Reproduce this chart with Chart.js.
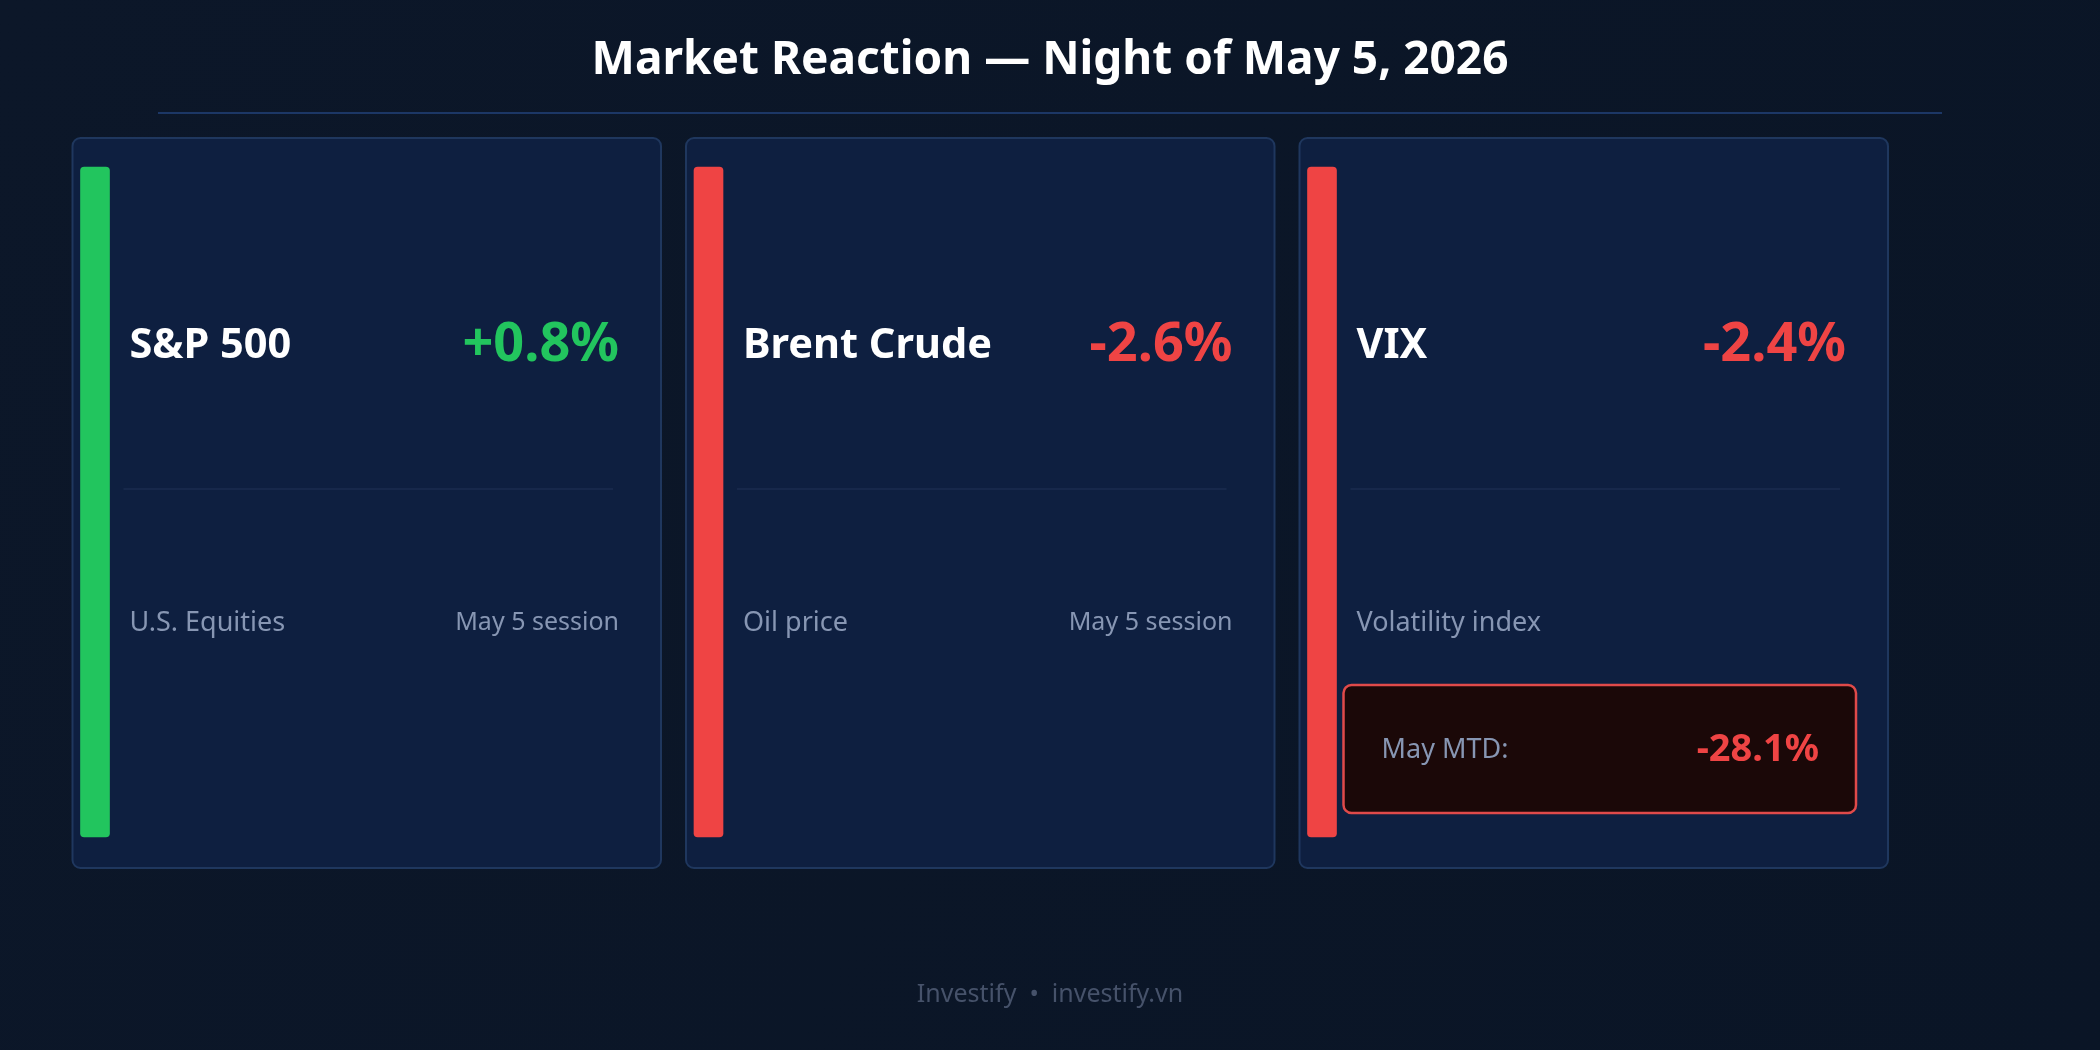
<!DOCTYPE html>
<html>
<head>
<meta charset="utf-8">
<title>Market Reaction</title>
<script src="https://cdn.jsdelivr.net/npm/chart.js@4.4.1/dist/chart.umd.min.js"></script>
<style>
  html, body { margin: 0; padding: 0; background: #0b1628; }
  #wrap { width: 2100px; height: 1050px; position: relative; }
</style>
</head>
<body>
<div id="wrap"><canvas id="board"></canvas></div>
<script>
const assets = ["S&P 500", "Brent Crude", "VIX"];
const changes = [0.8, -2.6, -2.4];
const descriptions = ["U.S. Equities", "Oil price", "Volatility index"];
const sessions = ["May 5 session", "May 5 session", ""];
const monthToDate = [null, null, -28.1];
const stripeSpan = [1, 1, 1];
const chartTitle = "Market Reaction \u2014 Night of May 5, 2026";
const footerText = "Investify  \u2022  investify.vn";

const GREEN = "#22c55e";
const RED = "#ef4444";
const FONT = '"Noto Sans", "Open Sans", sans-serif';

const fmt = (v) => (v > 0 ? "+" : "") + v.toFixed(1) + "%";
const tone = (v) => (v >= 0 ? GREEN : RED);

function roundRect(ctx, x, y, w, h, r) {
  ctx.beginPath();
  ctx.moveTo(x + r, y);
  ctx.arcTo(x + w, y, x + w, y + h, r);
  ctx.arcTo(x + w, y + h, x, y + h, r);
  ctx.arcTo(x, y + h, x, y, r);
  ctx.arcTo(x, y, x + w, y, r);
  ctx.closePath();
}

function text(ctx, str, x, y, font, color, align) {
  ctx.font = font;
  ctx.fillStyle = color;
  ctx.textAlign = align || "left";
  ctx.textBaseline = "middle";
  ctx.fillText(str, x, y);
}

const cardsPlugin = {
  id: "cards",
  beforeDraw(chart) {
    const { ctx, width, height } = chart;
    ctx.save();

    const bg = ctx.createLinearGradient(0, 0, width, height);
    bg.addColorStop(0, "#0c1729");
    bg.addColorStop(1, "#0a1526");
    ctx.fillStyle = bg;
    ctx.fillRect(0, 0, width, height);

    text(ctx, chartTitle, width / 2, 61, "bold 46px " + FONT, "#ffffff", "center");
    ctx.strokeStyle = "#1c3766";
    ctx.lineWidth = 2;
    ctx.beginPath();
    ctx.moveTo(158, 113);
    ctx.lineTo(1942, 113);
    ctx.stroke();

    const bars = chart.getDatasetMeta(0).data;
    const step = bars.length > 1 ? bars[1].x - bars[0].x : 613;
    bars.forEach((bar, i) => {
      const left = bar.x - bar.width / 2 - 9;
      const top = bar.y - 30;
      const w = step - 23;
      const h = bar.base - bar.y + 62;
      const right = left + w;

      roundRect(ctx, left + 1, top + 1, w - 2, h - 2, 8);
      ctx.fillStyle = "#0e1f40";
      ctx.fill();
      ctx.strokeStyle = "#1f375e";
      ctx.lineWidth = 2;
      ctx.stroke();

      text(ctx, assets[i], left + 58, top + 209, "bold 41.5px " + FONT, "#ffffff");
      text(ctx, fmt(changes[i]), right - 43, top + 209, "bold 54px " + FONT, tone(changes[i]), "right");

      ctx.strokeStyle = "#1b2d4f";
      ctx.lineWidth = 1.5;
      ctx.beginPath();
      ctx.moveTo(left + 52, top + 352);
      ctx.lineTo(right - 49, top + 352);
      ctx.stroke();

      text(ctx, descriptions[i], left + 58, top + 486, "27px " + FONT, "#8796b3");
      if (sessions[i]) {
        text(ctx, sessions[i], right - 43, top + 486, "25px " + FONT, "#8796b3", "right");
      }

      if (monthToDate[i] !== null) {
        roundRect(ctx, left + 45, top + 548, w - 78, 128, 8);
        ctx.fillStyle = "#1b0808";
        ctx.fill();
        ctx.strokeStyle = "#e04a4a";
        ctx.lineWidth = 2.5;
        ctx.stroke();
        text(ctx, "May MTD:", left + 83, top + 613, "27px " + FONT, "#8796b3");
        text(ctx, fmt(monthToDate[i]), right - 70, top + 613, "bold 38px " + FONT, tone(monthToDate[i]), "right");
      }
    });

    text(ctx, footerText, width / 2, 995, "25px " + FONT, "#46526a", "center");
    ctx.restore();
  }
};

new Chart(document.getElementById("board"), {
  type: "bar",
  data: {
    labels: assets,
    datasets: [{
      data: stripeSpan,
      backgroundColor: changes.map(tone),
      borderRadius: 4,
      borderSkipped: false,
      barThickness: 29,
      clip: false
    }]
  },
  options: {
    responsive: true,
    maintainAspectRatio: false,
    animation: false,
    devicePixelRatio: 1,
    layout: { padding: { left: 95, right: 778, top: 167, bottom: 213 } },
    scales: {
      x: { display: false, offset: false },
      y: { display: false, min: 0, max: 1 }
    },
    plugins: { legend: { display: false }, tooltip: { enabled: false } }
  },
  plugins: [cardsPlugin]
});
</script>
</body>
</html>
